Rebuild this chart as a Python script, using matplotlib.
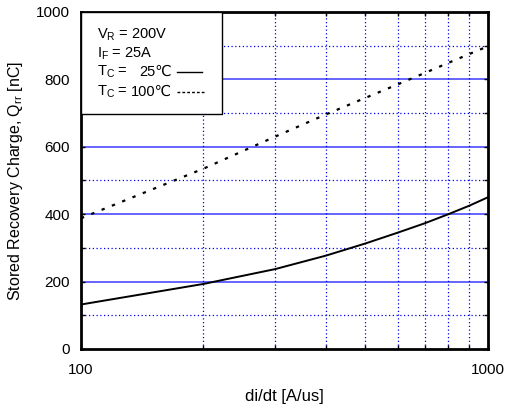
import matplotlib
matplotlib.use("Agg")
import matplotlib.pyplot as plt
from matplotlib.ticker import FixedLocator, NullFormatter, FixedFormatter
from matplotlib.patches import Rectangle

plt.rcParams['font.family'] = ['Liberation Sans', 'DejaVu Sans']
plt.rcParams['mathtext.default'] = 'regular'

# data
didt = [100, 200, 300, 400, 500, 600, 700, 800, 900, 1000]
qrr_25c = [132, 193, 237, 277, 313, 345, 373, 400, 425, 450]
qrr_100c = [388, 535, 630, 696, 745, 785, 819, 849, 875, 898]

y_ticks = [0, 200, 400, 600, 800, 1000]
x_ticks = [100, 1000]

fig = plt.figure(figsize=(5.06, 4.13), dpi=100)
ax = fig.add_axes([0.160, 0.155, 0.804, 0.816])

ax.set_xscale('log')
ax.set_xlim(100, 1000)
ax.set_ylim(0, 1000)

# grid
for v in [200, 400, 600, 800]:
    ax.axhline(v, color='#3a3aff', lw=1.1, zorder=1)
for v in [100, 300, 500, 700, 900]:
    ax.axhline(v, color='#0000ee', lw=0.9, ls=(0, (1, 2)), zorder=1)
for v in range(200, 1000, 100):
    ax.axvline(v, color='#0000ee', lw=0.9, ls=(0, (1, 2)), zorder=1)

ax.plot(didt, qrr_25c, color='black', lw=1.4, zorder=3)
ax.plot(didt, qrr_100c, color='black', lw=1.6, ls=(0, (1.5, 3.5)), zorder=3)

ax.xaxis.set_major_locator(FixedLocator(x_ticks))
ax.xaxis.set_major_formatter(FixedFormatter([str(v) for v in x_ticks]))
ax.xaxis.set_minor_locator(FixedLocator(list(range(200, 1000, 100))))
ax.xaxis.set_minor_formatter(NullFormatter())
ax.set_yticks(y_ticks)
ax.set_yticks(list(range(100, 1000, 200)), minor=True)
ax.tick_params(which='both', direction='in', top=True, right=True,
               length=3, width=1, labelsize=11)
ax.tick_params(axis='x', pad=10)
ax.tick_params(axis='y', pad=8)

for s in ax.spines.values():
    s.set_linewidth(2)

ax.set_xlabel('di/dt [A/us]', fontsize=12, labelpad=9)
ax.set_ylabel('Stored Recovery Charge, Q$_{rr}$ [nC]', fontsize=11.5, labelpad=8)

# legend box
ax.add_patch(Rectangle((0, 0.697), 0.347, 0.303, transform=ax.transAxes,
                       facecolor='white', edgecolor='black', lw=1, zorder=5,
                       clip_on=False))
tx = 0.04
fs = 10.5
ax.text(tx, 0.932, 'V$_{R}$ = 200V', transform=ax.transAxes, fontsize=fs,
        va='center', zorder=6)
ax.text(tx, 0.876, 'I$_{F}$ = 25A', transform=ax.transAxes, fontsize=fs,
        va='center', zorder=6)
ax.text(tx, 0.822, 'T$_{C}$ =', transform=ax.transAxes, fontsize=fs,
        va='center', zorder=6)
ax.text(tx, 0.763, 'T$_{C}$ =', transform=ax.transAxes, fontsize=fs,
        va='center', zorder=6)
ax.text(0.224, 0.822, '25\u2103', transform=ax.transAxes, fontsize=fs,
        va='center', ha='right', zorder=6)
ax.text(0.224, 0.763, '100\u2103', transform=ax.transAxes, fontsize=fs,
        va='center', ha='right', zorder=6)
ax.plot([0.236, 0.298], [0.822, 0.822], transform=ax.transAxes, color='black',
        lw=1, zorder=6)
ax.plot([0.236, 0.303], [0.763, 0.763], transform=ax.transAxes, color='black',
        lw=1, ls=(0, (2, 1.5)), zorder=6)

fig.savefig('out.png', dpi=100)
